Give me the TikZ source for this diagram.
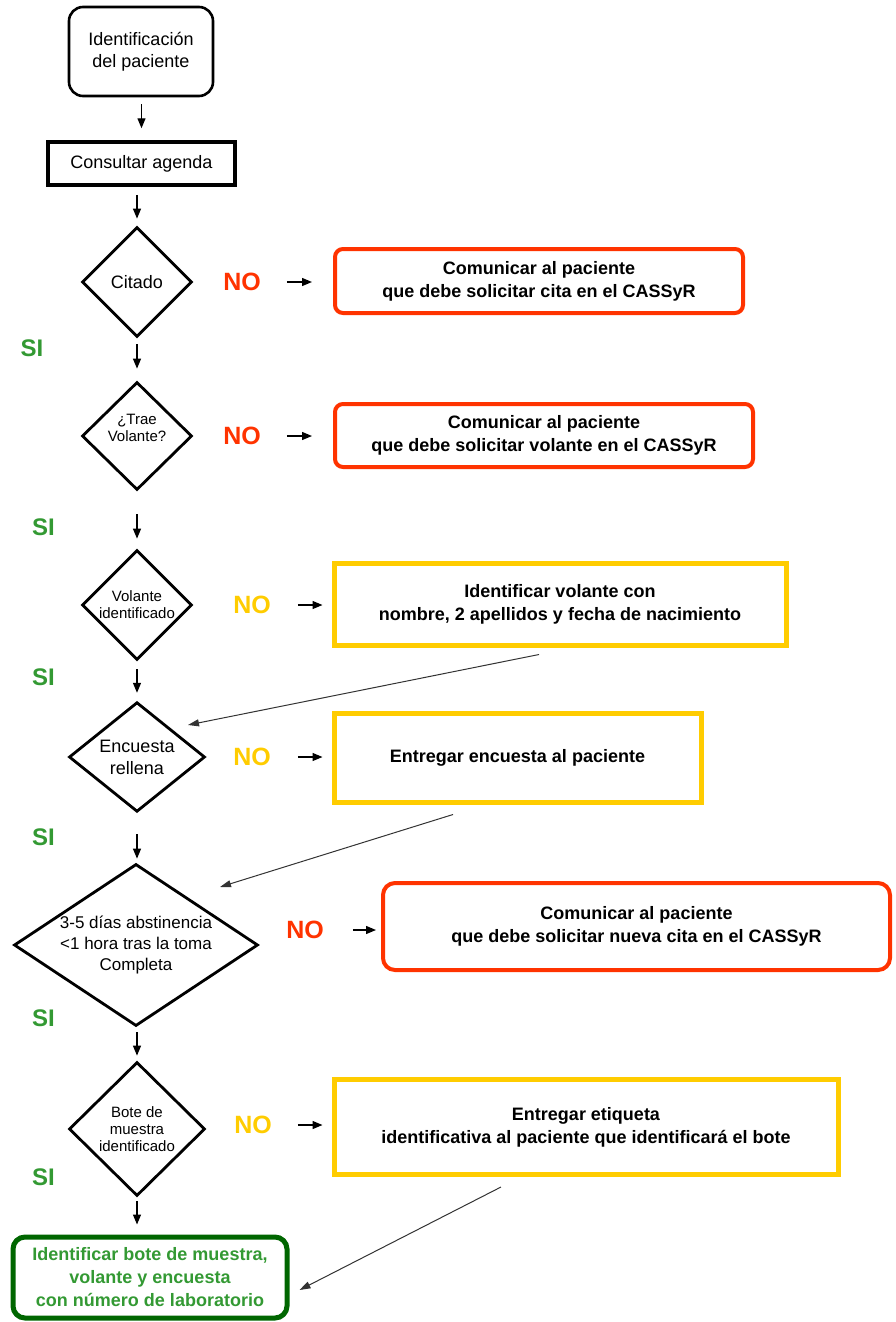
\documentclass[tikz,border=0pt]{standalone}
\usepackage{fontspec}
\setmainfont{Liberation Sans}
\usetikzlibrary{shapes.geometric,arrows.meta,calc}
\definecolor{nored}{HTML}{FF3300}
\definecolor{noyellow}{HTML}{FFCC00}
\definecolor{sigreen}{HTML}{339933}
\definecolor{findark}{HTML}{006600}
\tikzset{
  texto/.style={font=\fontsize{18}{22}\selectfont, align=center},
  chico/.style={font=\fontsize{15}{17}\selectfont, align=center},
  negrita/.style={font=\fontsize{18}{23}\selectfont\bfseries, align=center},
  decision/.style={diamond, draw, line width=2.8pt, inner sep=0pt},
  accionroja/.style={negrita, draw=nored, line width=4pt, rounded corners=8pt},
  accionamarilla/.style={negrita, draw=noyellow, line width=5pt},
  etiquetano/.style={font=\fontsize{25}{25}\selectfont\bfseries, inner sep=0pt},
  etiquetasi/.style={font=\fontsize{24}{24}\selectfont\bfseries, text=sigreen, inner sep=0pt},
  flecha/.style={-{Triangle[length=10pt,width=8pt]}, line width=1.3pt},
  diagonal/.style={-{Triangle[length=11pt,width=7pt]}, line width=1pt, black!80}
}
\begin{document}
\begin{tikzpicture}[x=1pt,y=-1pt]
  \useasboundingbox (0,0) rectangle (895,1322);
  %% The main column: every question is a diamond, the start and the end are boxes
  \node[texto, draw, line width=2.6pt, rounded corners=14pt, minimum width=144pt, minimum height=89pt] (ini) at (141,51.5) {Identificación\\del paciente};
  \node[texto, draw, line width=3.5pt, minimum width=187pt, minimum height=43pt] (agenda) at (141.5,163.5) {Consultar agenda};
  \node[decision, texto, minimum width=110pt, minimum height=110pt] (cit) at (137,282) {Citado};
  \node[decision, chico, minimum width=110pt, minimum height=108pt] (trae) at (137,436) {¿Trae\\Volante?\\ \mbox{}};
  \node[decision, chico, minimum width=110pt, minimum height=110pt] (volid) at (137,605) {Volante\\identificado};
  \node[decision, texto, minimum width=136pt, minimum height=108pt] (enc) at (137,757) {Encuesta\\rellena};
  %% this one is wider than tall, so it needs its own aspect
  \node[decision, shape aspect=1.5, font=\fontsize{17}{21}\selectfont, align=center, minimum width=244pt, minimum height=162pt] (abst) at (136,945) {3-5 días abstinencia\\<1 hora tras la toma\\Completa};
  \node[decision, chico, minimum width=136pt, minimum height=134pt] (bote) at (137,1129) {Bote de\\muestra\\identificado};
  \node[negrita, text=sigreen, draw=findark, line width=5pt, rounded corners=12pt, minimum width=274pt, minimum height=81pt] (fin) at (150,1277.5) {Identificar bote de muestra,\\volante y encuesta\\con número de laboratorio};

  %% The boxes on the right say what to do when the answer is NO
  \node[accionroja, minimum width=408pt, minimum height=64pt] (act1) at (539,281) {Comunicar al paciente\\que debe solicitar cita en el CASSyR};
  \node[accionroja, minimum width=418pt, minimum height=63pt] (act2) at (544,435.5) {Comunicar al paciente\\que debe solicitar volante en el CASSyR};
  \node[accionamarilla, minimum width=452pt, minimum height=82pt] (act3) at (560,604) {Identificar volante con\\nombre, 2 apellidos y fecha de nacimiento};
  \node[accionamarilla, minimum width=367pt, minimum height=89pt] (act4) at (517.5,757.5) {Entregar encuesta al paciente};
  \node[accionroja, rounded corners=12pt, minimum width=507pt, minimum height=87pt] (act5) at (636.5,926.5) {Comunicar al paciente\\que debe solicitar nueva cita en el CASSyR};
  \node[accionamarilla, minimum width=504pt, minimum height=95pt] (act6) at (586,1127) {Entregar etiqueta\\identificativa al paciente que identificará el bote};

  %% NO and SI labels
  \node[etiquetano, text=nored] (no1) at (242,282) {NO};
  \node[etiquetano, text=nored] (no2) at (242,436) {NO};
  \node[etiquetano, text=noyellow] (no3) at (252,605) {NO};
  \node[etiquetano, text=noyellow] (no4) at (252,757) {NO};
  \node[etiquetano, text=nored] (no5) at (305,930) {NO};
  \node[etiquetano, text=noyellow] (no6) at (253,1125) {NO};
  \node[etiquetasi] (si1) at (32,348) {SI};
  \node[etiquetasi] (si2) at (43.5,527) {SI};
  \node[etiquetasi] (si3) at (43.5,677) {SI};
  \node[etiquetasi] (si4) at (43.5,837) {SI};
  \node[etiquetasi] (si5) at (43.5,1018) {SI};
  \node[etiquetasi] (si6) at (43.5,1177) {SI};

  %% Short arrows down the column
  \draw[flecha, shorten <=7pt, shorten >=12pt] (ini.south -| agenda.north) -- (agenda.north);
  \draw[flecha, shorten <=8pt, shorten >=7pt] (cit.north |- agenda.south) -- (cit.north);
  \draw[flecha, shorten <=6pt, shorten >=12pt] (cit.south) -- (trae.north);
  \draw[flecha, shorten <=23pt, shorten >=10pt] (trae.south) -- (volid.north);
  \draw[flecha, shorten <=8pt, shorten >=8pt] (volid.south) -- (enc.north);
  \draw[flecha, shorten <=21pt, shorten >=4pt] (enc.south) -- (abst.north -| enc.south);
  \draw[flecha, shorten <=5pt, shorten >=5pt] (abst.south -| bote.north) -- (bote.north);
  \draw[flecha, shorten <=4pt, shorten >=10pt] (bote.south) -- (bote.south |- fin.north);

  %% Arrows from NO to the boxes
  \draw[flecha, shorten <=26pt, shorten >=21pt] (no1.east) -- (no1.east -| act1.west);
  \draw[flecha, shorten <=26pt, shorten >=21pt] (no2.east) -- (no2.east -| act2.west);
  \draw[flecha, shorten <=27pt, shorten >=9pt] (no3.east) -- (no3.east -| act3.west);
  \draw[flecha, shorten <=27pt, shorten >=9pt] (no4.east) -- (no4.east -| act4.west);
  \draw[flecha, shorten <=29pt, shorten >=5pt] (no5.east) -- (no5.east -| act5.west);
  \draw[flecha, shorten <=26pt, shorten >=9pt] (no6.east) -- (no6.east -| act6.west);

  %% Back into the column once the problem is fixed
  \draw[diagonal] ($(act3.south)+(-21,7)$) -- ($(enc)+(51,-32)$);
  \draw[diagonal] ($(act4.south)+(-64.5,10)$) -- ($(abst)+(84,-58)$);
  \draw[diagonal] ($(act6.south)+(-85,10)$) -- ($(fin.east)+(10,12.5)$);
\end{tikzpicture}
\end{document}
